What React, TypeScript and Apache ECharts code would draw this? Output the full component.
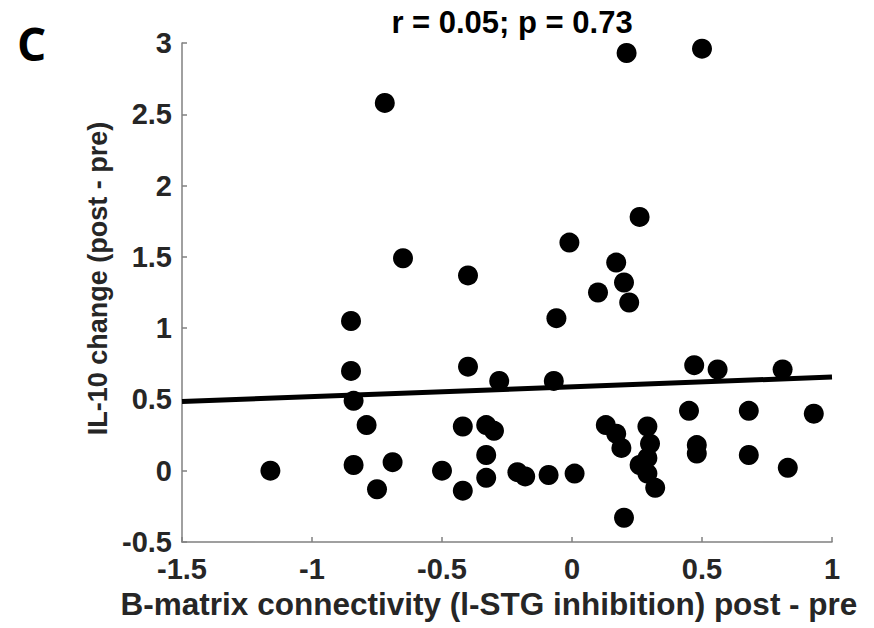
import React, { useEffect, useRef } from "react";
import * as echarts from "echarts";

// Scatter data: B-matrix connectivity change (x) vs IL-10 change (y)
const xValues: number[] = [
  -1.16, -0.85, -0.85, -0.84, -0.79, -0.84, -0.69, -0.75, -0.72, -0.65,
  -0.40, -0.40, -0.28, -0.42, -0.33, -0.30, -0.33, -0.33, -0.50, -0.42,
  -0.21, -0.18, -0.09, 0.01, -0.07, -0.06, -0.01, 0.10, 0.17, 0.20,
  0.22, 0.26, 0.21, 0.50, 0.47, 0.56, 0.81, 0.45, 0.68, 0.93,
  0.13, 0.17, 0.19, 0.29, 0.30, 0.29, 0.26, 0.29, 0.32, 0.20,
  0.48, 0.48, 0.68, 0.83,
];
const yValues: number[] = [
  0.0, 1.05, 0.7, 0.49, 0.32, 0.04, 0.06, -0.13, 2.58, 1.49,
  1.37, 0.73, 0.63, 0.31, 0.32, 0.28, 0.11, -0.05, 0.0, -0.14,
  -0.01, -0.04, -0.03, -0.02, 0.63, 1.07, 1.6, 1.25, 1.46, 1.32,
  1.18, 1.78, 2.93, 2.96, 0.74, 0.71, 0.71, 0.42, 0.42, 0.4,
  0.32, 0.26, 0.16, 0.31, 0.19, 0.09, 0.04, -0.02, -0.12, -0.33,
  0.18, 0.12, 0.11, 0.02,
];

// Regression line end points
const fitX: number[] = [-1.5, 1];
const fitY: number[] = [0.485, 0.657];

const titleText = "r = 0.05; p = 0.73";
const xAxisTitle = "B-matrix connectivity (l-STG inhibition) post - pre";
const yAxisTitle = "IL-10 change (post - pre)";
const panelLetter = "C";

export default function App() {
  const ref = useRef<HTMLDivElement>(null);

  useEffect(() => {
    if (!ref.current) return;
    const chart = echarts.init(ref.current, undefined, { renderer: "svg" });
    const font = "'Liberation Sans', Arial, Helvetica, sans-serif";
    const points = xValues.map((x, i) => [x, yValues[i]]);
    const fit = fitX.map((x, i) => [x, fitY[i]]);

    chart.setOption({
      animation: false,
      backgroundColor: "#ffffff",
      title: {
        text: titleText,
        left: 507,
        top: 2,
        textAlign: "center",
        textStyle: {
          fontFamily: font,
          fontWeight: "bold",
          fontSize: 31,
          color: "#000000",
        },
      },
      graphic: [
        {
          type: "text",
          left: 17,
          top: 20,
          style: {
            text: panelLetter,
            fontFamily: "'Open Sans', 'Noto Sans', sans-serif",
            fontWeight: "bold",
            fontSize: 46,
            fill: "#000000",
          },
        },
      ],
      grid: { left: 182, right: 42, top: 43, bottom: 86, containLabel: false },
      xAxis: {
        type: "value",
        min: -1.5,
        max: 1,
        interval: 0.5,
        name: xAxisTitle,
        nameLocation: "middle",
        nameGap: 46,
        nameTextStyle: {
          fontFamily: font,
          fontWeight: "bold",
          fontSize: 31.5,
          color: "#262626",
          padding: [0, 36, 0, 0],
        },
        axisLine: { show: true, onZero: false, lineStyle: { color: "#808080", width: 1.5 } },
        axisTick: { show: true, inside: true, length: 5, lineStyle: { color: "#808080", width: 1.5 } },
        axisLabel: {
          margin: 12,
          fontFamily: font,
          fontWeight: "bold",
          fontSize: 29,
          color: "#262626",
        },
        splitLine: { show: false },
      },
      yAxis: {
        type: "value",
        min: -0.5,
        max: 3,
        interval: 0.5,
        name: yAxisTitle,
        nameLocation: "middle",
        nameGap: 63,
        nameTextStyle: {
          fontFamily: font,
          fontWeight: "bold",
          fontSize: 27,
          color: "#262626",
          padding: [0, 0, 0, 28],
        },
        axisLine: { show: true, onZero: false, lineStyle: { color: "#808080", width: 1.5 } },
        axisTick: { show: true, inside: true, length: 5, lineStyle: { color: "#808080", width: 1.5 } },
        axisLabel: {
          margin: 10,
          fontFamily: font,
          fontWeight: "bold",
          fontSize: 29,
          color: "#262626",
        },
        splitLine: { show: false },
      },
      series: [
        {
          type: "line",
          data: fit,
          showSymbol: false,
          symbol: "none",
          lineStyle: { color: "#000000", width: 5 },
          z: 3,
        },
        {
          type: "scatter",
          data: points,
          symbol: "circle",
          symbolSize: 20,
          itemStyle: { color: "#000000", opacity: 1 },
          z: 4,
        },
      ],
    });

    return () => {
      chart.dispose();
    };
  }, []);

  return (
    <div
      ref={ref}
      style={{ position: "absolute", left: 0, top: 0, width: 874, height: 628 }}
    />
  );
}
